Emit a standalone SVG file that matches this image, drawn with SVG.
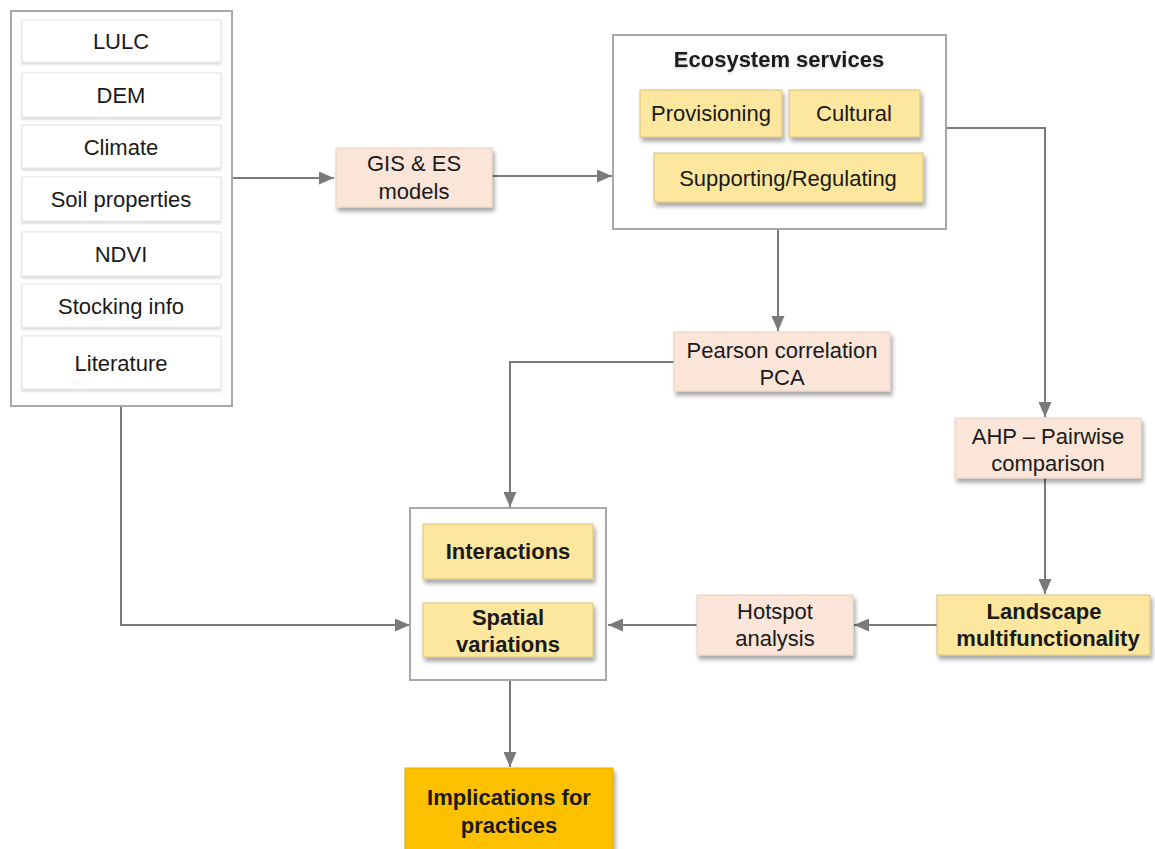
<svg xmlns="http://www.w3.org/2000/svg" width="1155" height="849" viewBox="0 0 1155 849">
<style>
.t{font-family:"Liberation Sans",Arial,sans-serif;font-size:22px;fill:#1a1a1a;text-anchor:middle}
.b{font-weight:bold}
.item{fill:#fff;stroke:#e2e2e2;stroke-width:1}
.cont{fill:#fff;stroke:#a8a8a8;stroke-width:2}
.peach{fill:#fae5d8;stroke:#e8d2c4;stroke-width:1}
.yel{fill:#fde69d;stroke:#d8c27c;stroke-width:1}
.org{fill:#ffc000;stroke:#e2aa00;stroke-width:1}
.c{fill:none;stroke:#7a7a7a;stroke-width:2}
</style>
<defs>
<filter id="sh" x="-10%" y="-10%" width="125%" height="140%">
<feDropShadow dx="2" dy="4" stdDeviation="2" flood-color="#000" flood-opacity="0.35"/>
</filter>
<filter id="sh2" x="-10%" y="-10%" width="125%" height="140%">
<feDropShadow dx="0" dy="2" stdDeviation="1" flood-color="#000" flood-opacity="0.15"/>
</filter>
<marker id="ah" markerWidth="15" markerHeight="13" refX="15" refY="6.5" orient="auto" markerUnits="userSpaceOnUse">
<path d="M0,0 L15,6.5 L0,13 Z" fill="#7a7a7a"/>
</marker>
</defs>

<g id="connectors">
<path class="c" d="M232,178 L334,178" marker-end="url(#ah)"/>
<path class="c" d="M492,176 L612,176" marker-end="url(#ah)"/>
<path class="c" d="M947,128 L1045,128 L1045,417" marker-end="url(#ah)"/>
<path class="c" d="M1045,478 L1045,594" marker-end="url(#ah)"/>
<path class="c" d="M778,229 L778,331" marker-end="url(#ah)"/>
<path class="c" d="M674,362 L510,362 L510,507" marker-end="url(#ah)"/>
<path class="c" d="M121,406 L121,625 L410,625" marker-end="url(#ah)"/>
<path class="c" d="M937,625 L854,625" marker-end="url(#ah)"/>
<path class="c" d="M697,625 L608,625" marker-end="url(#ah)"/>
<path class="c" d="M510,680 L510,767" marker-end="url(#ah)"/>
</g>

<g id="inputs">
<rect class="cont" x="11" y="11" width="221" height="395"/>
<g filter="url(#sh2)">
<rect class="item" x="22" y="20" width="199" height="42"/>
<rect class="item" x="22" y="73" width="199" height="44"/>
<rect class="item" x="22" y="125" width="199" height="43"/>
<rect class="item" x="22" y="177" width="199" height="44"/>
<rect class="item" x="22" y="232" width="199" height="44"/>
<rect class="item" x="22" y="284" width="199" height="43"/>
<rect class="item" x="22" y="336" width="199" height="53"/>
</g>
<text class="t" x="121" y="49">LULC</text>
<text class="t" x="121" y="103">DEM</text>
<text class="t" x="121" y="155">Climate</text>
<text class="t" x="121" y="207">Soil properties</text>
<text class="t" x="121" y="262">NDVI</text>
<text class="t" x="121" y="314">Stocking info</text>
<text class="t" x="121" y="371">Literature</text>
</g>

<g id="gis">
<rect class="peach" x="336" y="148" width="156" height="59" filter="url(#sh)"/>
<text class="t" x="414" y="171">GIS &amp; ES</text>
<text class="t" x="414" y="199">models</text>
</g>

<g id="ecosystem">
<rect class="cont" x="613" y="35" width="333" height="194"/>
<text class="t b" x="779" y="67" filter="url(#sh2)">Ecosystem services</text>
<g filter="url(#sh)">
<rect class="yel" x="640" y="90" width="142" height="47"/>
<rect class="yel" x="789" y="90" width="131" height="47"/>
<rect class="yel" x="654" y="153" width="269" height="49"/>
</g>
<text class="t" x="711" y="121">Provisioning</text>
<text class="t" x="854" y="121">Cultural</text>
<text class="t" x="788" y="186">Supporting/Regulating</text>
</g>

<g id="pearson">
<rect class="peach" x="674" y="332" width="216" height="59" filter="url(#sh)"/>
<text class="t" x="782" y="358">Pearson correlation</text>
<text class="t" x="782" y="385">PCA</text>
</g>

<g id="ahp">
<rect class="peach" x="955" y="418" width="186" height="60" filter="url(#sh)"/>
<text class="t" x="1048" y="444">AHP – Pairwise</text>
<text class="t" x="1048" y="471">comparison</text>
</g>

<g id="landscape">
<rect class="yel" x="937" y="595" width="213" height="60" filter="url(#sh)"/>
<text class="t b" x="1044" y="619">Landscape</text>
<text class="t b" x="1048" y="646">multifunctionality</text>
</g>

<g id="hotspot">
<rect class="peach" x="697" y="595" width="156" height="60" filter="url(#sh)"/>
<text class="t" x="775" y="619">Hotspot</text>
<text class="t" x="775" y="646">analysis</text>
</g>

<g id="outputs">
<rect class="cont" x="410" y="508" width="196" height="172"/>
<g filter="url(#sh)">
<rect class="yel" x="423" y="524" width="170" height="55"/>
<rect class="yel" x="423" y="603" width="170" height="54"/>
</g>
<text class="t b" x="508" y="559">Interactions</text>
<text class="t b" x="508" y="625">Spatial</text>
<text class="t b" x="508" y="652">variations</text>
</g>

<g id="implications">
<rect class="org" x="405" y="768" width="208" height="85" filter="url(#sh)"/>
<text class="t b" x="509" y="805">Implications for</text>
<text class="t b" x="509" y="833">practices</text>
</g>
</svg>
